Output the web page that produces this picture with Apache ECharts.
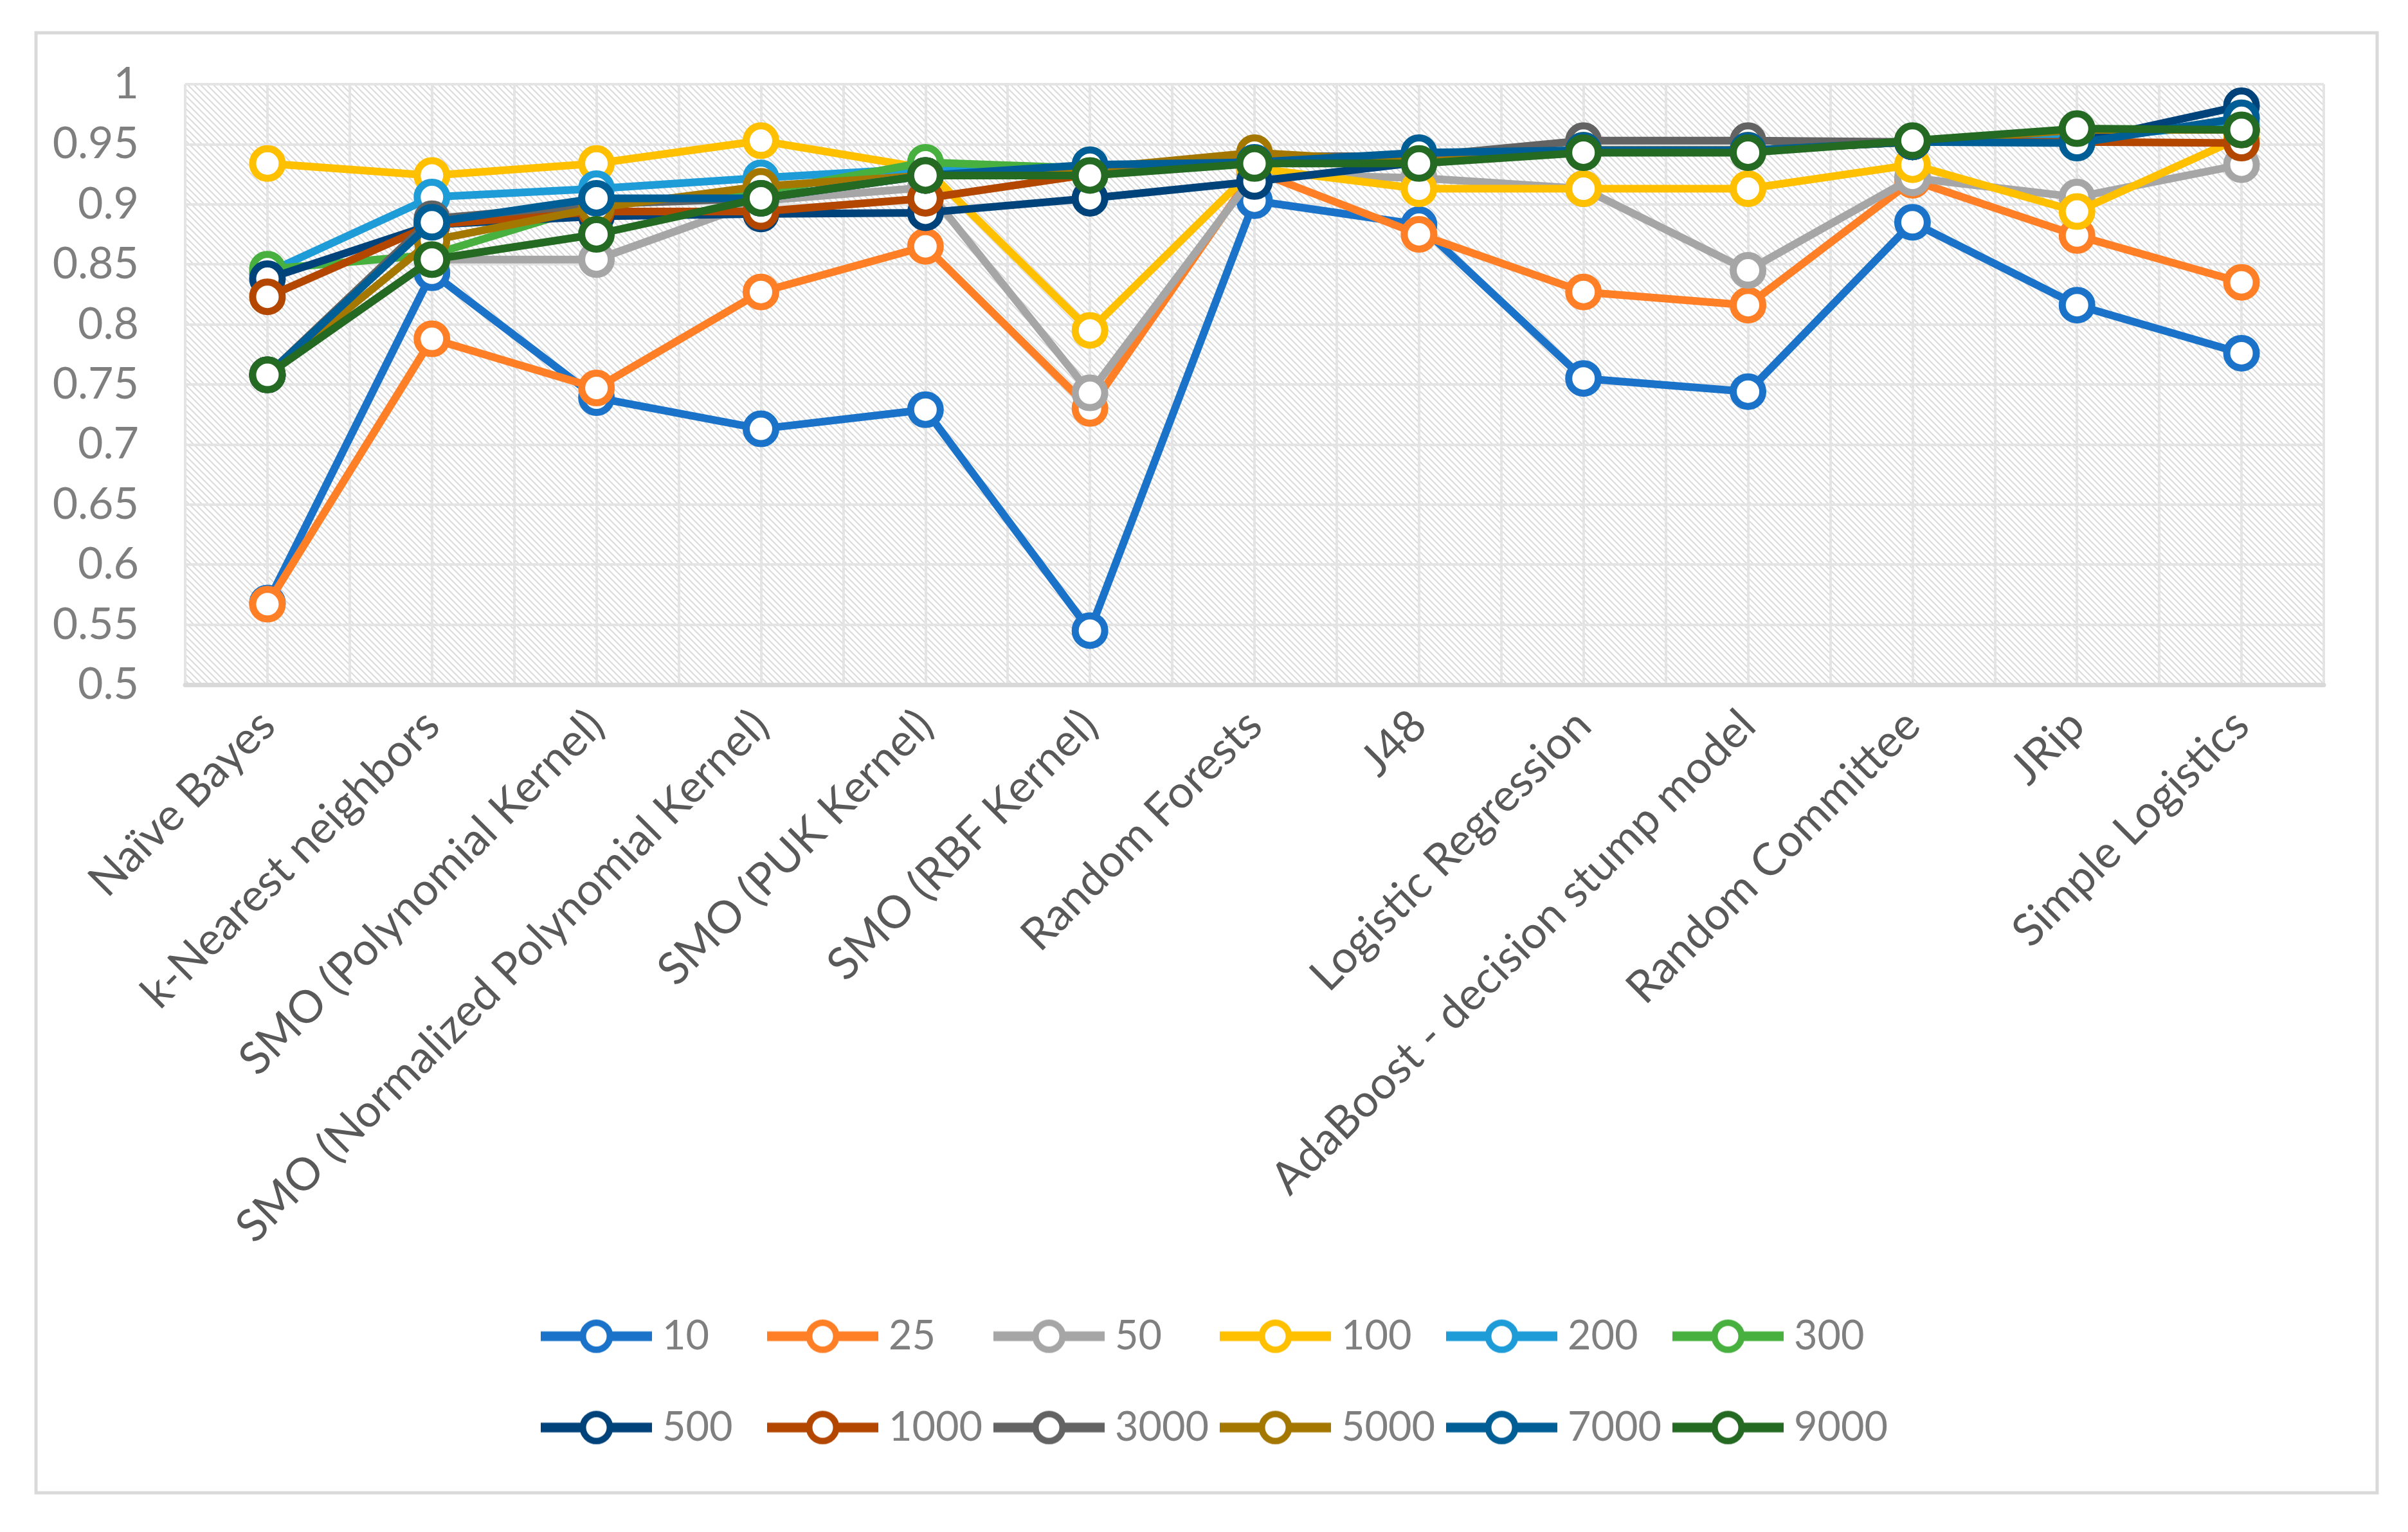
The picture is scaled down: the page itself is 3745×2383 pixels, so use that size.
<!DOCTYPE html>
<html>
<head>
<meta charset="utf-8">
<script src="https://cdn.jsdelivr.net/npm/echarts@6/dist/echarts.min.js"></script>
<style>
html,body{margin:0;padding:0;background:#fff;}
#chart{width:3745px;height:2383px;}
</style>
</head>
<body>
<div id="chart"></div>
<script>
// ---------------- DATA ----------------
const categories = [
  'Naïve Bayes', 'k-Nearest neighbors', 'SMO (Polynomial Kernel)',
  'SMO (Normalized Polynomial Kernel)', 'SMO (PUK Kernel)', 'SMO (RBF Kernel)',
  'Random Forests', 'J48', 'Logistic Regression', 'AdaBoost - decision stump model',
  'Random Committee', 'JRip', 'Simple Logistics'
];
const seriesNames = ['10', '25', '50', '100', '200', '300', '500', '1000', '3000', '5000', '7000', '9000'];

const v10   = [0.568, 0.843, 0.739, 0.713, 0.729, 0.545, 0.903, 0.883, 0.755, 0.744, 0.885, 0.816, 0.776];
const v25   = [0.567, 0.788, 0.747, 0.827, 0.865, 0.730, 0.928, 0.875, 0.827, 0.816, 0.920, 0.874, 0.835];
const v50   = [0.758, 0.854, 0.854, 0.903, 0.914, 0.743, 0.925, 0.922, 0.913, 0.845, 0.922, 0.906, 0.933];
const v100  = [0.934, 0.924, 0.934, 0.953, 0.930, 0.795, 0.930, 0.913, 0.913, 0.913, 0.933, 0.894, 0.956];
const v200  = [0.843, 0.906, 0.913, 0.922, 0.930, 0.930, 0.935, 0.940, 0.945, 0.945, 0.952, 0.955, 0.967];
const v300  = [0.846, 0.858, 0.900, 0.910, 0.935, 0.930, 0.935, 0.940, 0.945, 0.945, 0.952, 0.962, 0.962];
const v500  = [0.838, 0.883, 0.890, 0.892, 0.893, 0.905, 0.919, 0.935, 0.945, 0.945, 0.952, 0.952, 0.982];
const v1000 = [0.823, 0.883, 0.894, 0.894, 0.905, 0.925, 0.935, 0.935, 0.945, 0.945, 0.952, 0.952, 0.951];
const v3000 = [0.758, 0.888, 0.900, 0.905, 0.924, 0.930, 0.940, 0.940, 0.953, 0.953, 0.952, 0.962, 0.962];
const v5000 = [0.758, 0.870, 0.897, 0.915, 0.924, 0.930, 0.943, 0.935, 0.945, 0.945, 0.952, 0.962, 0.962];
const v7000 = [0.758, 0.885, 0.905, 0.905, 0.924, 0.933, 0.935, 0.943, 0.945, 0.945, 0.952, 0.951, 0.972];
const v9000 = [0.758, 0.854, 0.875, 0.905, 0.924, 0.924, 0.934, 0.934, 0.943, 0.943, 0.953, 0.963, 0.962];

const seriesValues = [v10, v25, v50, v100, v200, v300, v500, v1000, v3000, v5000, v7000, v9000];

const yMin = 0.5, yMax = 1, yStep = 0.05;

// ---------------- STYLE ----------------
const palette = ['#1a73c9', '#ff7f27', '#a6a6a6', '#ffc000', '#1e9cd8', '#47b03e',
                 '#00427a', '#b34700', '#636363', '#a37700', '#005e96', '#246a22'];
const FONT = 'Lato, "Open Sans", sans-serif';

function makePattern() {
  const c = document.createElement('canvas');
  c.width = 10; c.height = 10;
  const g = c.getContext('2d');
  g.fillStyle = '#ffffff';
  g.fillRect(0, 0, 10, 10);
  g.strokeStyle = '#dbdbdb';
  g.lineWidth = 2.0;
  g.beginPath();
  g.moveTo(-5, -5); g.lineTo(15, 15);
  g.moveTo(-15, -5); g.lineTo(5, 15);
  g.moveTo(5, -5); g.lineTo(25, 15);
  g.stroke();
  return c;
}

function makeLegendIcon(color) {
  const w = 184, h = 58;
  const c = document.createElement('canvas');
  c.width = w; c.height = h;
  const g = c.getContext('2d');
  g.strokeStyle = color;
  g.lineWidth = 15;
  g.beginPath();
  g.moveTo(0, h / 2); g.lineTo(173, h / 2);
  g.stroke();
  g.beginPath();
  g.arc(86.5, h / 2, 21, 0, Math.PI * 2);
  g.fillStyle = '#fff';
  g.fill();
  g.lineWidth = 10;
  g.stroke();
  return c.toDataURL();
}

const chart = echarts.init(document.getElementById('chart'), null, {renderer: 'canvas'});

const legends = seriesNames.map((name, i) => ({
  data: [{name: name, icon: 'image://' + makeLegendIcon(palette[i])}],
  left: 841 + (i % 6) * 352,
  top: (i < 6 ? 2076 : 2218) - 29,
  padding: 0,
  itemWidth: 184,
  itemHeight: 58,
  selectedMode: false,
  textStyle: {color: '#7f7f7f', fontSize: 63, fontFamily: FONT}
}));

const series = seriesNames.map((name, i) => ({
  name: name,
  type: 'line',
  data: seriesValues[i],
  xAxisIndex: 0,
  yAxisIndex: 0,
  symbol: 'circle',
  symbolSize: 46,
  showAllSymbol: true,
  animation: false,
  lineStyle: {color: palette[i], width: 12},
  itemStyle: {color: '#ffffff', borderColor: palette[i], borderWidth: 11},
  emphasis: {disabled: true},
  z: 2 + i * 0.01
}));

chart.setOption({
  animation: false,
  backgroundColor: '#ffffff',
  color: palette,
  graphic: [{
    type: 'rect',
    shape: {x: 56, y: 51, width: 3641, height: 2271},
    style: {fill: null, stroke: '#d9d9d9', lineWidth: 5},
    silent: true,
    z: -10
  }],
  grid: {
    left: 288, right: 131, top: 131, bottom: 1318,
    show: true,
    backgroundColor: {image: makePattern(), repeat: 'repeat'},
    borderWidth: 0
  },
  legend: legends,
  xAxis: [{
    type: 'category',
    data: categories,
    boundaryGap: true,
    axisLine: {show: true, lineStyle: {color: '#d9d9d9', width: 7}},
    axisTick: {show: false},
    splitLine: {show: false},
    axisLabel: {
      interval: 0,
      rotate: 45,
      margin: 52,
      color: '#595959',
      fontSize: 70,
      fontFamily: FONT
    }
  }, {
    type: 'value',
    min: 0, max: categories.length, interval: 0.5,
    position: 'top',
    axisLine: {show: false},
    axisTick: {show: false},
    axisLabel: {show: false},
    splitLine: {show: true, lineStyle: {color: '#e4e4e4', width: 4}}
  }],
  yAxis: {
    type: 'value',
    min: yMin, max: yMax, interval: yStep,
    axisLine: {show: false},
    axisTick: {show: false},
    axisLabel: {
      margin: 72,
      color: '#7f7f7f',
      fontSize: 68,
      fontFamily: FONT,
      formatter: v => String(+v.toFixed(2))
    },
    splitLine: {show: true, lineStyle: {color: '#e4e4e4', width: 4}}
  },
  series: series
});
</script>
</body>
</html>
